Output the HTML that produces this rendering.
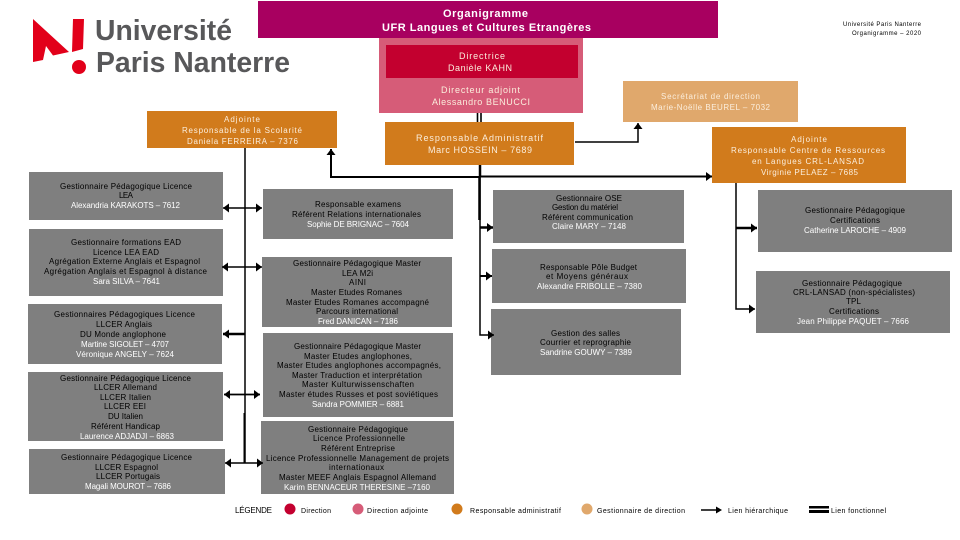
<!DOCTYPE html>
<html lang="fr"><head><meta charset="utf-8"><title>Organigramme UFR LCE</title>
<style>
html,body{margin:0;padding:0;background:#fff;width:960px;height:540px;overflow:hidden}
svg{display:block}
text{font-family:"Liberation Sans",sans-serif;font-size:8px;fill:#000}
.w text,text.w{fill:#fff}
.o text{fill:#fbeedd}
.g{fill:#7f7f7f}
.or{fill:#d17b1c}
.l{stroke:#000;fill:none}
</style></head><body>
<svg width="960" height="540" viewBox="0 0 960 540" xmlns="http://www.w3.org/2000/svg">
<defs>
<marker id="a" markerUnits="userSpaceOnUse" markerWidth="8" markerHeight="9" refX="6" refY="4.500" orient="auto-start-reverse"><path d="M0 0L6 4.500L0 9Z" fill="#000"/></marker>
</defs>
<rect width="960" height="540" fill="#fff"/>

<!-- logo -->
<path d="M33 19L69 52L53 55.500L46 46L43 60L33 62Z" fill="#e2001a"/>
<path d="M73 19L84 19L83 49L72 52Z" fill="#e2001a"/>
<circle cx="79" cy="67" r="7" fill="#e2001a"/>
<text x="95" y="40" textLength="137" lengthAdjust="spacingAndGlyphs" style="font-size:29px;font-weight:bold;fill:#58585a">Université</text>
<text x="96" y="72" textLength="194" lengthAdjust="spacingAndGlyphs" style="font-size:29px;font-weight:bold;fill:#58585a">Paris Nanterre</text>

<!-- boxes -->
<rect x="379" y="38" width="204" height="75" fill="#d65c78"/>
<rect x="258" y="1" width="460" height="37" fill="#a80060"/>
<rect x="386" y="45" width="192" height="33" fill="#c3002f"/>
<rect x="385" y="122" width="189" height="43" class="or"/>
<rect x="623" y="81" width="175" height="41" fill="#e0a86c"/>
<rect x="147" y="111" width="190" height="37" class="or"/>
<rect x="712" y="127" width="194" height="56" class="or"/>

<rect x="29" y="172" width="194" height="48" class="g"/>
<rect x="29" y="229" width="194" height="67" class="g"/>
<rect x="28" y="304" width="194" height="60" class="g"/>
<rect x="28" y="372" width="195" height="69" class="g"/>
<rect x="29" y="449" width="196" height="45" class="g"/>
<rect x="263" y="189" width="190" height="50" class="g"/>
<rect x="262" y="257" width="190" height="70" class="g"/>
<rect x="263" y="333" width="190" height="84" class="g"/>
<rect x="261" y="421" width="193" height="73" class="g"/>
<rect x="493" y="190" width="191" height="53" class="g"/>
<rect x="492" y="249" width="194" height="54" class="g"/>
<rect x="491" y="309" width="190" height="66" class="g"/>
<rect x="758" y="190" width="194" height="62" class="g"/>
<rect x="756" y="271" width="194" height="62" class="g"/>

<!-- connectors -->
<g class="l" stroke-width="1.600">
<path d="M477.500 113V122M481 113V122" />
<path d="M245 148V463" stroke-width="1.500"/>
<path d="M244.500 413V463" stroke-width="2"/>
<path d="M480 165V177" stroke-width="2.500"/>
<path d="M480 177V335H494" stroke-width="1.500" marker-end="url(#a)"/>
<path d="M479.500 177V220" stroke-width="2.500"/>
<path d="M331 177H480" stroke-width="2"/>
<path d="M331 178V149" stroke-width="2" marker-end="url(#a)"/>
<path d="M480 176.500H712" stroke-width="2" marker-end="url(#a)"/>
<path d="M575 142H638V123" stroke-width="1.500" marker-end="url(#a)"/>
<path d="M736 183V309H755" stroke-width="1.500" marker-end="url(#a)"/>
<path d="M736 228H757" stroke-width="2.500" marker-end="url(#a)"/>
<path d="M480 227.500H493" stroke-width="2.500" marker-end="url(#a)"/>
<path d="M480 276H492" stroke-width="2" marker-end="url(#a)"/>
<path d="M223 208H262" stroke-width="1.500" marker-start="url(#a)" marker-end="url(#a)"/>
<path d="M222 267H262" stroke-width="1.500" marker-start="url(#a)" marker-end="url(#a)"/>
<path d="M223 334H245" stroke-width="2.500" marker-start="url(#a)"/>
<path d="M224 394.500H260" stroke-width="1.800" marker-start="url(#a)" marker-end="url(#a)"/>
<path d="M225 463H263" stroke-width="1.500" marker-start="url(#a)" marker-end="url(#a)"/>
</g>

<!-- title -->
<g class="w">
<text x="443" y="17" textLength="85" style="font-size:11px;font-weight:bold;fill:#fff">Organigramme</text>
<text x="382" y="31" textLength="209" style="font-size:11px;font-weight:bold;fill:#fff">UFR Langues et Cultures Etrangères</text>
</g>
<text x="843" y="26" textLength="78" style="font-size:6px">Université Paris Nanterre</text>
<text x="852" y="35" textLength="69" style="font-size:6px">Organigramme – 2020</text>

<g class="o" style="font-size:8px">
<text x="459" y="59" textLength="46" style="font-size:9px">Directrice</text>
<text x="448" y="71" textLength="64" style="font-size:9px">Danièle KAHN</text>
<text x="441" y="93" textLength="79" style="font-size:9px">Directeur adjoint</text>
<text x="432" y="105" textLength="98" style="font-size:9px">Alessandro BENUCCI</text>
<text x="416" y="141" textLength="127" style="font-size:9px">Responsable Administratif</text>
<text x="428" y="153" textLength="104" style="font-size:9px">Marc HOSSEIN – 7689</text>
<text x="661" y="99" textLength="99">Secrétariat de direction</text>
<text x="651" y="110" textLength="119">Marie-Noëlle BEUREL – 7032</text>
<text x="224" y="122" textLength="36">Adjointe</text>
<text x="182" y="133" textLength="120">Responsable de la Scolarité</text>
<text x="187" y="144" textLength="111">Daniela FERREIRA – 7376</text>
<text x="791" y="142" textLength="36">Adjointe</text>
<text x="731" y="153" textLength="154">Responsable Centre de Ressources</text>
<text x="752" y="164" textLength="112">en Langues CRL-LANSAD</text>
<text x="761" y="175" textLength="97">Virginie PELAEZ – 7685</text>
</g>

<!-- left column -->
<text x="60" y="189" textLength="132">Gestionnaire Pédagogique Licence</text>
<text x="119" y="198" textLength="14">LEA</text>
<text class="w" x="71" y="208" textLength="109">Alexandria KARAKOTS – 7612</text>

<text x="71" y="245" textLength="110">Gestionnaire formations EAD</text>
<text x="93" y="255" textLength="66">Licence LEA EAD</text>
<text x="49" y="264" textLength="151">Agrégation Externe Anglais et Espagnol</text>
<text x="44" y="274" textLength="163">Agrégation Anglais et Espagnol à distance</text>
<text class="w" x="93" y="284" textLength="67">Sara SILVA – 7641</text>

<text x="54" y="317" textLength="141">Gestionnaires Pédagogiques Licence</text>
<text x="96" y="327" textLength="56">LLCER Anglais</text>
<text x="80" y="337" textLength="86">DU Monde anglophone</text>
<text class="w" x="81" y="347" textLength="88">Martine SIGOLET – 4707</text>
<text class="w" x="76" y="357" textLength="98">Véronique ANGELY – 7624</text>

<text x="60" y="381" textLength="131">Gestionnaire Pédagogique Licence</text>
<text x="94" y="390" textLength="63">LLCER Allemand</text>
<text x="100" y="400" textLength="51">LLCER Italien</text>
<text x="104" y="409" textLength="42">LLCER EEI</text>
<text x="108" y="419" textLength="35">DU Italien</text>
<text x="91" y="429" textLength="69">Référent Handicap</text>
<text class="w" x="80" y="439" textLength="94">Laurence ADJADJI – 6863</text>

<text x="61" y="460" textLength="131">Gestionnaire Pédagogique Licence</text>
<text x="95" y="470" textLength="63">LLCER Espagnol</text>
<text x="96" y="479" textLength="64">LLCER Portugais</text>
<text class="w" x="85" y="489" textLength="86">Magali MOUROT – 7686</text>

<!-- middle column -->
<text x="315" y="207" textLength="86">Responsable examens</text>
<text x="292" y="217" textLength="129">Référent Relations internationales</text>
<text class="w" x="307" y="227" textLength="102">Sophie DE BRIGNAC – 7604</text>

<text x="293" y="266" textLength="128">Gestionnaire Pédagogique Master</text>
<text x="342" y="276" textLength="31">LEA M2i</text>
<text x="349" y="285" textLength="17">AINI</text>
<text x="311" y="295" textLength="91">Master Etudes Romanes</text>
<text x="286" y="305" textLength="143">Master Etudes Romanes accompagné</text>
<text x="316" y="314" textLength="82">Parcours international</text>
<text class="w" x="318" y="324" textLength="80">Fred DANICAN – 7186</text>

<text x="294" y="349" textLength="127">Gestionnaire Pédagogique Master</text>
<text x="304" y="359" textLength="108">Master Etudes anglophones,</text>
<text x="277" y="368" textLength="164">Master Etudes anglophones accompagnés,</text>
<text x="292" y="378" textLength="130">Master Traduction et interprétation</text>
<text x="302" y="387" textLength="112">Master Kulturwissenschaften</text>
<text x="279" y="397" textLength="159">Master études Russes et post soviétiques</text>
<text class="w" x="312" y="407" textLength="92">Sandra POMMIER – 6881</text>

<text x="308" y="432" textLength="100">Gestionnaire Pédagogique</text>
<text x="313" y="441" textLength="92">Licence Professionnelle</text>
<text x="321" y="451" textLength="74">Référent Entreprise</text>
<text x="266" y="461" textLength="183">Licence Professionnelle Management de projets</text>
<text x="329" y="470" textLength="55">internationaux</text>
<text x="279" y="480" textLength="157">Master MEEF Anglais Espagnol Allemand</text>
<text class="w" x="284" y="490" textLength="146">Karim BENNACEUR THERESINE –7160</text>

<!-- right column -->
<text x="556" y="201" textLength="66">Gestionnaire OSE</text>
<text x="552" y="210" textLength="66">Gestion du matériel</text>
<text x="542" y="220" textLength="91">Référent communication</text>
<text class="w" x="552" y="229" textLength="74">Claire MARY – 7148</text>

<text x="540" y="270" textLength="97">Responsable Pôle Budget</text>
<text x="546" y="279" textLength="82">et  Moyens généraux</text>
<text class="w" x="537" y="289" textLength="105">Alexandre FRIBOLLE – 7380</text>

<text x="551" y="336" textLength="69">Gestion des salles</text>
<text x="540" y="345" textLength="91">Courrier et reprographie</text>
<text class="w" x="540" y="355" textLength="92">Sandrine GOUWY – 7389</text>

<text x="805" y="213" textLength="100">Gestionnaire Pédagogique</text>
<text x="830" y="223" textLength="50">Certifications</text>
<text class="w" x="804" y="233" textLength="102">Catherine LAROCHE – 4909</text>

<text x="802" y="286" textLength="100">Gestionnaire Pédagogique</text>
<text x="793" y="295" textLength="122">CRL-LANSAD (non-spécialistes)</text>
<text x="846" y="304" textLength="15">TPL</text>
<text x="829" y="314" textLength="50">Certifications</text>
<text class="w" x="797" y="324" textLength="112">Jean Philippe PAQUET – 7666</text>

<!-- legend -->
<text x="235" y="513" textLength="37">LÉGENDE</text>
<circle cx="290" cy="509" r="5.500" fill="#c3002f"/>
<text x="301" y="513" textLength="30" style="font-size:7px">Direction</text>
<circle cx="358" cy="509" r="5.500" fill="#d65c78"/>
<text x="367" y="513" textLength="61" style="font-size:7px">Direction adjointe</text>
<circle cx="457" cy="509" r="5.500" fill="#d17b1c"/>
<text x="470" y="513" textLength="91" style="font-size:7px">Responsable administratif</text>
<circle cx="587" cy="509" r="5.500" fill="#e0a86c"/>
<text x="597" y="513" textLength="88" style="font-size:7px">Gestionnaire de direction</text>
<path d="M701 510H717" stroke="#000" stroke-width="1.500"/>
<path d="M716 506.500L722 510L716 513.500Z" fill="#000"/>
<text x="728" y="513" textLength="60" style="font-size:7px">Lien hiérarchique</text>
<rect x="809" y="506" width="20" height="2.500" fill="#000"/>
<rect x="809" y="510" width="20" height="3" fill="#000"/>
<text x="831" y="513" textLength="55" style="font-size:7px">Lien fonctionnel</text>
</svg>
</body></html>
